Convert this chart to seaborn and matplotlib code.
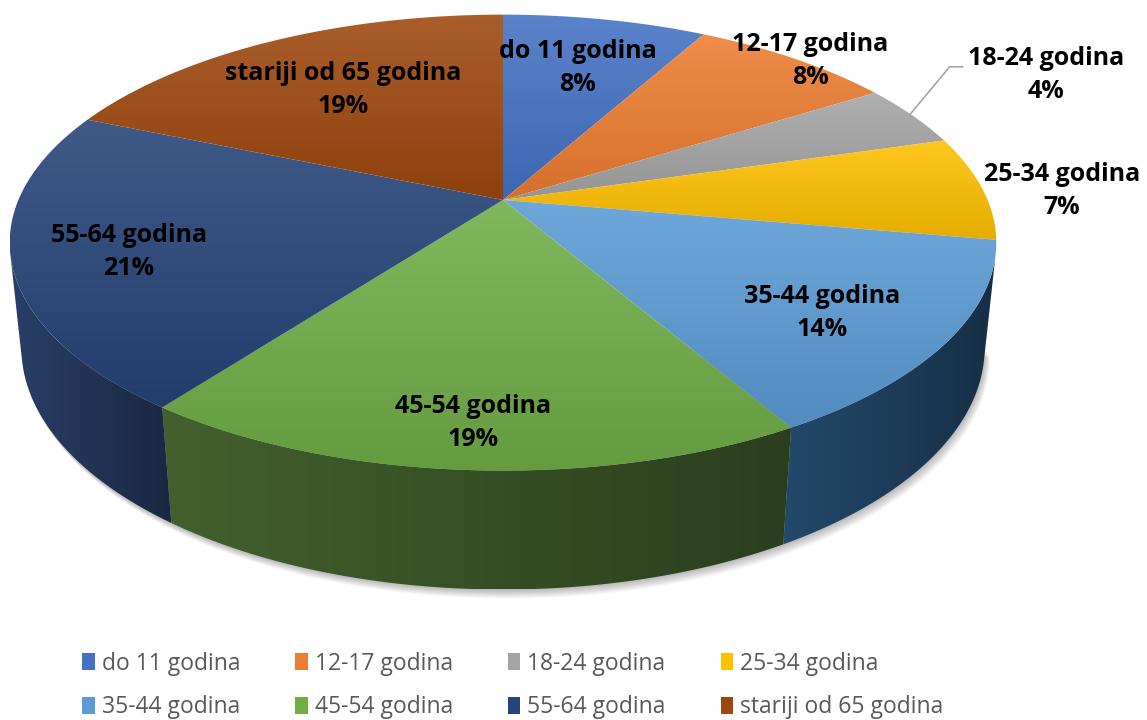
import numpy as np
import matplotlib
matplotlib.use("Agg")
import matplotlib.pyplot as plt
import seaborn as sns
import colorsys
from matplotlib.patches import Polygon, Patch
from matplotlib.colors import to_rgb

# ---------------- data ----------------
categories = ["do 11 godina", "12-17 godina", "18-24 godina", "25-34 godina",
              "35-44 godina", "45-54 godina", "55-64 godina", "stariji od 65 godina"]
shares = [8.0, 8.0, 4.4, 7.4, 13.9, 18.5, 21.2, 18.6]
pct_labels = ["8%", "8%", "4%", "7%", "14%", "19%", "21%", "19%"]

# ---------------- style ----------------
colors = ["#4472c4", "#ed7d31", "#a5a5a5", "#ffc000",
          "#5b9bd5", "#70ad47", "#264478", "#9e480e"]
label_radius = [0.70, 1.06, 1.36, 1.17, 0.74, 0.87, 0.77, 0.66]
label_dy = [0, 10, -13, 5, 11, -5, 6, 0]

sns.set_theme(style="white")
plt.rcParams['font.family'] = ['Open Sans', 'DejaVu Sans']

W, H = 1147, 720
fig = plt.figure(figsize=(W / 100, H / 100), dpi=100)
ax = fig.add_axes([0, 0, 1, 1])
ax.axis('off')

# perspective projection of a cylinder (pie)
elev = np.radians(27.0)
ce, se = np.cos(elev), np.sin(elev)
D = 5.35 * ce
S = 2310.0
CX, CY = 503.0, 200.0
h = 0.245


def proj(theta, r=1.0, z=0.0):
    X = r * np.sin(theta)
    Y = r * np.cos(theta)
    depth = D + Y * ce - z * se
    sx = X / depth
    sy = (Y * se + z * ce) / depth
    if np.ndim(theta):
        return np.column_stack([CX + S * sx, CY - S * sy])
    return np.array([CX + S * sx, CY - S * sy])


def mix(c, other, f):
    a = np.array(to_rgb(c))
    b = np.array(to_rgb(other))
    return tuple(a * (1 - f) + b * f)


def side_col(c, L):
    r, g, b = to_rgb(c)
    hh, l, s = colorsys.rgb_to_hls(r, g, b)
    return colorsys.hls_to_rgb(hh, L, min(1, s * 0.85))


def grad_fill(xy, c0, c1, direction='v', zorder=2):
    patch = Polygon(xy, closed=True, facecolor='none', edgecolor='none', zorder=zorder)
    ax.add_patch(patch)
    x0, y0 = xy.min(0)
    x1, y1 = xy.max(0)
    t = np.linspace(0, 1, 256)[:, None]
    cols = np.array(c0)[None, :] * (1 - t) + np.array(c1)[None, :] * t
    img = cols[:, None, :] if direction == 'v' else cols[None, :, :]
    im = ax.imshow(img, extent=(x0, x1, y1, y0), aspect='auto',
                   interpolation='bilinear', zorder=zorder)
    im.set_clip_path(patch)


total = float(sum(shares))
bounds = 2 * np.pi * np.concatenate([[0], np.cumsum(shares)]) / total
v0 = np.arccos(-1.0 / (D * ce))
v1 = 2 * np.pi - v0

# soft shadow under the pie
tt = np.linspace(v0 - 0.05, v1 + 0.05, 200)
bottom = proj(tt, 1.0, -h)
for k in range(1, 10):
    ax.add_patch(Polygon(bottom + np.array([0.6 * k, 1.0 * k]), closed=True,
                         facecolor='black', edgecolor='none', alpha=0.03, zorder=0))

# side faces
for i, c in enumerate(colors):
    a, b = bounds[i], bounds[i + 1]
    if b <= v0 or a >= v1:
        continue
    lo, hi = max(a, v0), min(b, v1)
    t = np.linspace(lo, hi, 120)
    top = proj(t, 1.0, 0.0)
    bot = proj(t[::-1], 1.0, -h)
    xy = np.vstack([top, bot])
    grad_fill(xy, side_col(c, 0.28), side_col(c, 0.18), direction='h', zorder=1)

# top faces
for i, c in enumerate(colors):
    a, b = bounds[i], bounds[i + 1]
    t = np.linspace(a, b, 200)
    arc = proj(t, 1.0, 0.0)
    xy = np.vstack([[CX, CY], arc])
    grad_fill(xy, mix(c, 'white', 0.12), mix(c, 'black', 0.1), direction='v', zorder=3)

# data labels
for i, (cat, pct) in enumerate(zip(categories, pct_labels)):
    mid = 0.5 * (bounds[i] + bounds[i + 1])
    lx, ly = proj(mid, label_radius[i], 0.0)
    ly += label_dy[i]
    ax.text(lx, ly, f"{cat}\n{pct}", ha='center', va='center', fontsize=18,
            fontweight='bold', color='black', linespacing=1.42, zorder=6)
    if label_radius[i] > 1.25:
        p0 = proj(mid, 0.99, 0.0)
        ax.plot([p0[0], lx - 96, lx - 83], [p0[1], ly - 8, ly - 8],
                color='#a6a6a6', lw=1.2, zorder=5)

ax.set_xlim(0, W)
ax.set_ylim(H, 0)

# legend (row-wise order)
order = [0, 4, 1, 5, 2, 6, 3, 7]
handles = [Patch(facecolor=colors[j], edgecolor='none') for j in order]
labels = [categories[j] for j in order]
fig.legend(handles, labels, ncol=4, loc='center', bbox_to_anchor=(0.447, 0.048),
           frameon=False, fontsize=16.5, labelcolor='#595959',
           handlelength=0.55, handleheight=0.75, handletextpad=0.3,
           columnspacing=2.4, labelspacing=0.85)

fig.savefig("out.png", dpi=100)
